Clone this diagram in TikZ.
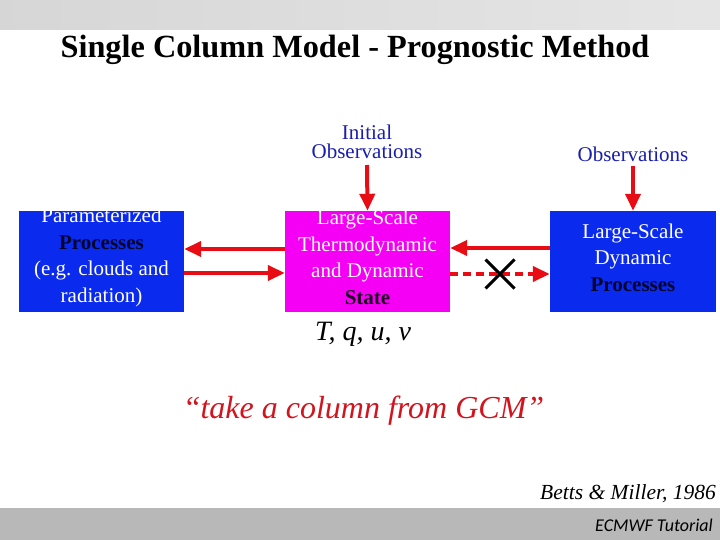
\documentclass[tikz,border=0pt]{standalone}
\usepackage{fontspec}
\setmainfont{Liberation Serif}
\newfontfamily\calib{Carlito}
\usetikzlibrary{arrows.meta,shapes.misc}
\definecolor{boxblue}{RGB}{10,42,238}
\definecolor{boxmag}{RGB}{245,0,245}
\definecolor{obsblue}{RGB}{25,30,175}
\definecolor{arred}{RGB}{232,12,20}
\definecolor{darkproc}{RGB}{5,5,45}
\definecolor{darkstate}{RGB}{30,0,35}
\definecolor{quotered}{RGB}{210,20,30}
\tikzset{
  procbox/.style={rectangle, inner sep=0pt, minimum width=165pt, minimum height=101pt},
  boxtext/.style={align=center, text=white, inner sep=0pt, font=\fontsize{21}{26.5}\selectfont},
  obstext/.style={align=center, text=obsblue, inner sep=0pt, font=\fontsize{21}{19}\selectfont},
  arr/.style={draw=arred, line width=4pt, -{Triangle[length=17pt,width=15pt]}},
  dasharr/.style={arr, dash pattern=on 8pt off 5pt}
}
\begin{document}
\begin{tikzpicture}[x=1pt,y=-1pt]
\useasboundingbox (0,0) rectangle (720,540);
% bands
\shade[left color=black!16, right color=black!10] (0,0) rectangle (720,30);
\fill[black!28] (0,508) rectangle (720,540);
% title
\node[anchor=base, inner sep=0pt, font=\fontsize{32.3}{36}\selectfont\bfseries] (title) at (355,58) {Single Column Model - Prognostic Method};
% boxes
\node[procbox, fill=boxblue] (L) at (101.5,261.5) {};
\node[procbox, fill=boxmag] (M) at (367.5,261.5) {};
\node[procbox, fill=boxblue, minimum width=166pt] (R) at (633,261.5) {};
\node[boxtext] (Lt) at ([yshift=4pt]L.center) {Parameterized\\\textbf{\textcolor{darkproc}{Processes}}\\(e.g. clouds and\\radiation)};
\node[boxtext] (Mt) at ([yshift=4pt]M.center) {Large-Scale\\Thermodynamic\\and Dynamic\\\textbf{\textcolor{darkstate}{State}}};
\node[boxtext] (Rt) at ([yshift=4pt]R.center) {Large-Scale\\Dynamic\\\textbf{\textcolor{darkproc}{Processes}}};
% observations
\node[obstext, anchor=south] (io) at (367,159) {Initial\\Observations};
\node[obstext, anchor=south] (ob) at (633,162) {Observations};
\draw[arr] ([yshift=-6pt]io.south) -- (M.north);
\draw[arr] ([yshift=-4pt]ob.south) -- (R.north);
% horizontal arrows
\draw[arr] ([yshift=12.5pt]M.west) -- ([yshift=12.5pt]L.east);
\draw[arr] ([yshift=-11.5pt]L.east) -- ([yshift=-11.5pt]M.west);
\draw[arr] ([yshift=13.5pt]R.west) -- ([yshift=13.5pt]M.east);
\draw[dasharr] ([yshift=-12.5pt]M.east) -- ([yshift=-12.5pt]R.west);
\node[cross out, draw=black, line width=3pt, minimum width=26pt, minimum height=26pt, inner sep=0pt] (x) at (500,274) {};
% labels
\node[anchor=base, inner sep=0pt, font=\fontsize{28}{32}\selectfont\itshape] (vars) at (363,340) {T, q, u, v};
\node[anchor=base, inner sep=0pt, text=quotered, font=\fontsize{32}{36}\selectfont\itshape] (quote) at (363.5,418) {``take a column from GCM''};
\node[anchor=base east, inner sep=0pt, font=\fontsize{21.5}{24}\selectfont\itshape] (ref) at (716,499) {Betts \& Miller, 1986};
\node[anchor=base east, inner sep=0pt, font=\calib\fontsize{18}{20}\selectfont\itshape] (foot) at (713,531) {ECMWF Tutorial};
\end{tikzpicture}
\end{document}
